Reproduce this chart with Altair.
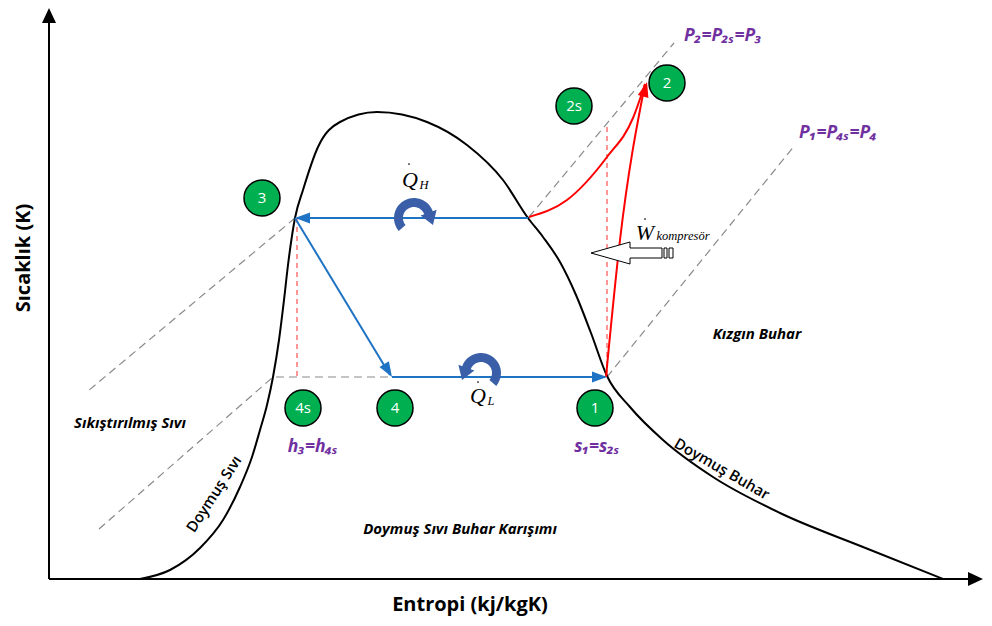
import altair as alt
import pandas as pd

# ---------------- data (entropy s ~ horizontal, temperature t ~ vertical) ----
dome_s = [140, 170, 200, 223, 240, 252, 260, 267, 273, 279, 284, 288, 295, 303, 318, 340, 377, 427, 467, 503, 528, 543, 560, 576, 591, 607, 630, 663, 713, 780, 863, 943]
dome_t = [579, 570, 548, 520, 487, 457, 430, 405, 377, 340, 300, 265, 218, 190, 147, 122, 112, 122, 145, 180, 218, 237, 262, 295, 333, 376, 407, 440, 477, 513, 547, 579]

# constant-pressure (isobar) dashed lines: group, s, t
iso_g = ["p2r", "p2r", "p2l", "p2l", "p1l", "p1l", "p1l", "p1r", "p1r"]
iso_s = [529, 674, 295, 88, 99, 273, 392, 607, 795]
iso_t = [217, 43, 218, 391, 529, 377, 377, 377, 145]

# red dashed isentropic guides
rd_g = ["a", "a", "b", "b"]
rd_s = [297, 297, 607, 607]
rd_t = [218, 377, 127, 377]

# blue cycle lines (condensation, throttling, evaporation)
bl_g = ["qh", "qh", "thr", "thr", "ql", "ql"]
bl_s = [528, 297, 295, 390, 392, 605]
bl_t = [218, 218, 218, 375, 377, 377]

# red compression lines
rc_g = ["ideal", "ideal", "ideal", "ideal", "ideal", "real", "real", "real"]
rc_s = [529, 567, 607, 633, 645, 606, 620, 645]
rc_t = [217, 200, 157, 118, 84, 377, 240, 84]

# state points
pt_lbl = ["3", "2s", "2", "4s", "4", "1"]
pt_s = [262, 574, 667, 303, 395, 595]
pt_t = [198, 106, 83, 408, 408, 408]

# arrow heads (tip position, direction in degrees)
ah_s = [295, 392, 607]
ah_t = [218, 377, 377]
ah_a = [180, 58.6, 0]
rh_s = [647]
rh_t = [82]
rh_a = [285]
ax_s = [49, 983]
ax_t = [8, 579]
ax_a = [270, 0]

# axes lines
axis_g = ["y", "y", "x", "x"]
axis_s = [49, 49, 49, 970]
axis_t = [20, 579, 579, 579]

# region labels
reg_txt = ["Sıkıştırılmış Sıvı", "Doymuş Sıvı Buhar Karışımı", "Kızgın Buhar"]
reg_s = [130, 460, 757]
reg_t = [423, 529, 334]
cur_txt = ["Doymuş Sıvı", "Doymuş Buhar"]
cur_s = [214, 722]
cur_t = [494, 469]
cur_a = [303, 30]

pur_txt = ["P₂=P₂ₛ=P₃", "P₁=P₄ₛ=P₄", "h₃=h₄ₛ", "s₁=s₂ₛ"]
pur_s = [723, 838, 313, 597]
pur_t = [36, 133, 447, 447]

ttl_txt = ["Sıcaklık (K)", "Entropi (kj/kgK)"]
ttl_s = [24, 470]
ttl_t = [258, 605]
ttl_a = [270, 0]

big_txt = ["Q", "Q", "W"]
big_s = [410, 478, 645]
big_t = [180, 396, 233]
sub_txt = ["H", "L", "kompresör"]
sub_s = [424, 491, 683]
sub_t = [185, 401, 236]
dot_s = [409, 478, 645]
dot_t = [164, 382, 219]

qh_s, qh_t = [414], [218]
ql_s, ql_t = [481], [373]
w_s, w_t = [630], [253]

# ---------------- shapes (style only, in pixel units: size=4 -> scale 1) ----------------
HEAD = "M0,0 L-15,-5.5 L-15,5.5 Z"
AXHEAD = "M0,0 L-15,-7 L-15,7 Z"
QH_SHAPE = "M-15.3,12.9 A20,20 0 1 1 18.8,-6.8 L22.6,-8.2 L19,6.9 L6.6,-2.4 L10.3,-3.8 A11,11 0 1 0 -8.4,7.1 Z"
QL_SHAPE = "M15.3,12.9 A20,20 0 1 0 -18.8,-6.8 L-22.6,-8.2 L-19,6.9 L-6.6,-2.4 L-10.3,-3.8 A11,11 0 1 1 8.4,7.1 Z"
W_SHAPE = ("M-39,0 L0,-11 L0,-5 L32,-5 L32,5 L0,5 L0,11 Z "
           "M34,-5 L37,-5 L37,5 L34,5 Z M39,-5 L43,-5 L43,5 L39,5 Z")

X = alt.X("s:Q", scale=alt.Scale(domain=[8, 984], nice=False, zero=False), axis=None)
Y = alt.Y("t:Q", scale=alt.Scale(domain=[8, 618], reverse=True, nice=False, zero=False), axis=None)

def df(**cols):
    return pd.DataFrame(cols)

def lines(data, color, width, dash=None, interp="linear"):
    kw = dict(color=color, strokeWidth=width, interpolate=interp)
    if dash:
        kw["strokeDash"] = dash
    return alt.Chart(data).mark_line(**kw).encode(x=X, y=Y, detail="g:N", order="o:Q")

def seq(g, s, t):
    return df(g=g, s=s, t=t, o=list(range(len(s))))

def shape_pts(data, shape, color, angle=False, stroke=None, sw=0):
    kw = dict(shape=shape, size=4, filled=True, fill=color, opacity=1, strokeWidth=sw)
    if stroke:
        kw["stroke"] = stroke
    enc = dict(x=X, y=Y)
    if angle:
        enc["angle"] = alt.Angle("a:Q", scale=None)
    return alt.Chart(data).mark_point(**kw).encode(**enc)

def texts(data, font, size, color="black", weight="normal", style="normal", angle=False):
    enc = dict(x=X, y=Y, text="txt:N")
    if angle:
        enc["angle"] = alt.Angle("a:Q", scale=None)
    return alt.Chart(data).mark_text(font=font, fontSize=size, fontWeight=weight, fontStyle=style,
                                     color=color, align="center", baseline="middle").encode(**enc)

SANS = "Open Sans, Lato, DejaVu Sans"
SERIF = "Liberation Serif, DejaVu Serif"

layers = [
    lines(seq(axis_g, axis_s, axis_t), "black", 2),
    lines(seq(iso_g, iso_s, iso_t), "#8a8a8a", 1.2, dash=[8, 5]),
    lines(seq(rd_g, rd_s, rd_t), "#ff5050", 1.2, dash=[5, 4]),
    lines(seq(["d"] * len(dome_s), dome_s, dome_t), "black", 2, interp="monotone"),
    lines(seq(bl_g, bl_s, bl_t), "#1f73c4", 2),
    lines(seq(rc_g, rc_s, rc_t), "#ff0000", 2, interp="monotone"),
    shape_pts(df(s=ah_s, t=ah_t, a=ah_a), HEAD, "#1f73c4", angle=True),
    shape_pts(df(s=rh_s, t=rh_t, a=rh_a), HEAD, "#ff0000", angle=True),
    shape_pts(df(s=ax_s, t=ax_t, a=ax_a), AXHEAD, "black", angle=True),
    shape_pts(df(s=qh_s, t=qh_t), QH_SHAPE, "#3a5fa8"),
    shape_pts(df(s=ql_s, t=ql_t), QL_SHAPE, "#3a5fa8"),
    shape_pts(df(s=w_s, t=w_t), W_SHAPE, "white", stroke="black", sw=1),
    alt.Chart(df(s=pt_s, t=pt_t)).mark_point(shape="circle", size=1296, filled=True, fill="#00b050",
                                             stroke="black", strokeWidth=1.5, opacity=1).encode(x=X, y=Y),
    texts(df(s=pt_s, t=pt_t, txt=pt_lbl), SANS, 15, color="white"),
    texts(df(s=reg_s, t=reg_t, txt=reg_txt), SANS, 15, weight="bold", style="italic"),
    texts(df(s=cur_s, t=cur_t, txt=cur_txt, a=cur_a), SANS, 15, weight=600, angle=True),
    texts(df(s=pur_s, t=pur_t, txt=pur_txt), SANS, 17.5, color="#7030a0", weight="bold", style="italic"),
    texts(df(s=ttl_s, t=ttl_t, txt=ttl_txt, a=ttl_a), SANS, 20, weight="bold", angle=True),
    texts(df(s=big_s, t=big_t, txt=big_txt), SERIF, 22, style="italic"),
    texts(df(s=sub_s, t=sub_t, txt=sub_txt), SERIF, 12.5, style="italic"),
    alt.Chart(df(s=dot_s, t=dot_t)).mark_point(shape="circle", size=3, filled=True, color="black",
                                               opacity=1).encode(x=X, y=Y),
]

chart = alt.layer(*layers).properties(
    width=976, height=610, padding=0,
    autosize=alt.AutoSizeParams(type="none"),
).configure_view(stroke=None)

chart.save("out.html", embed_options={"renderer": "svg", "actions": False})
